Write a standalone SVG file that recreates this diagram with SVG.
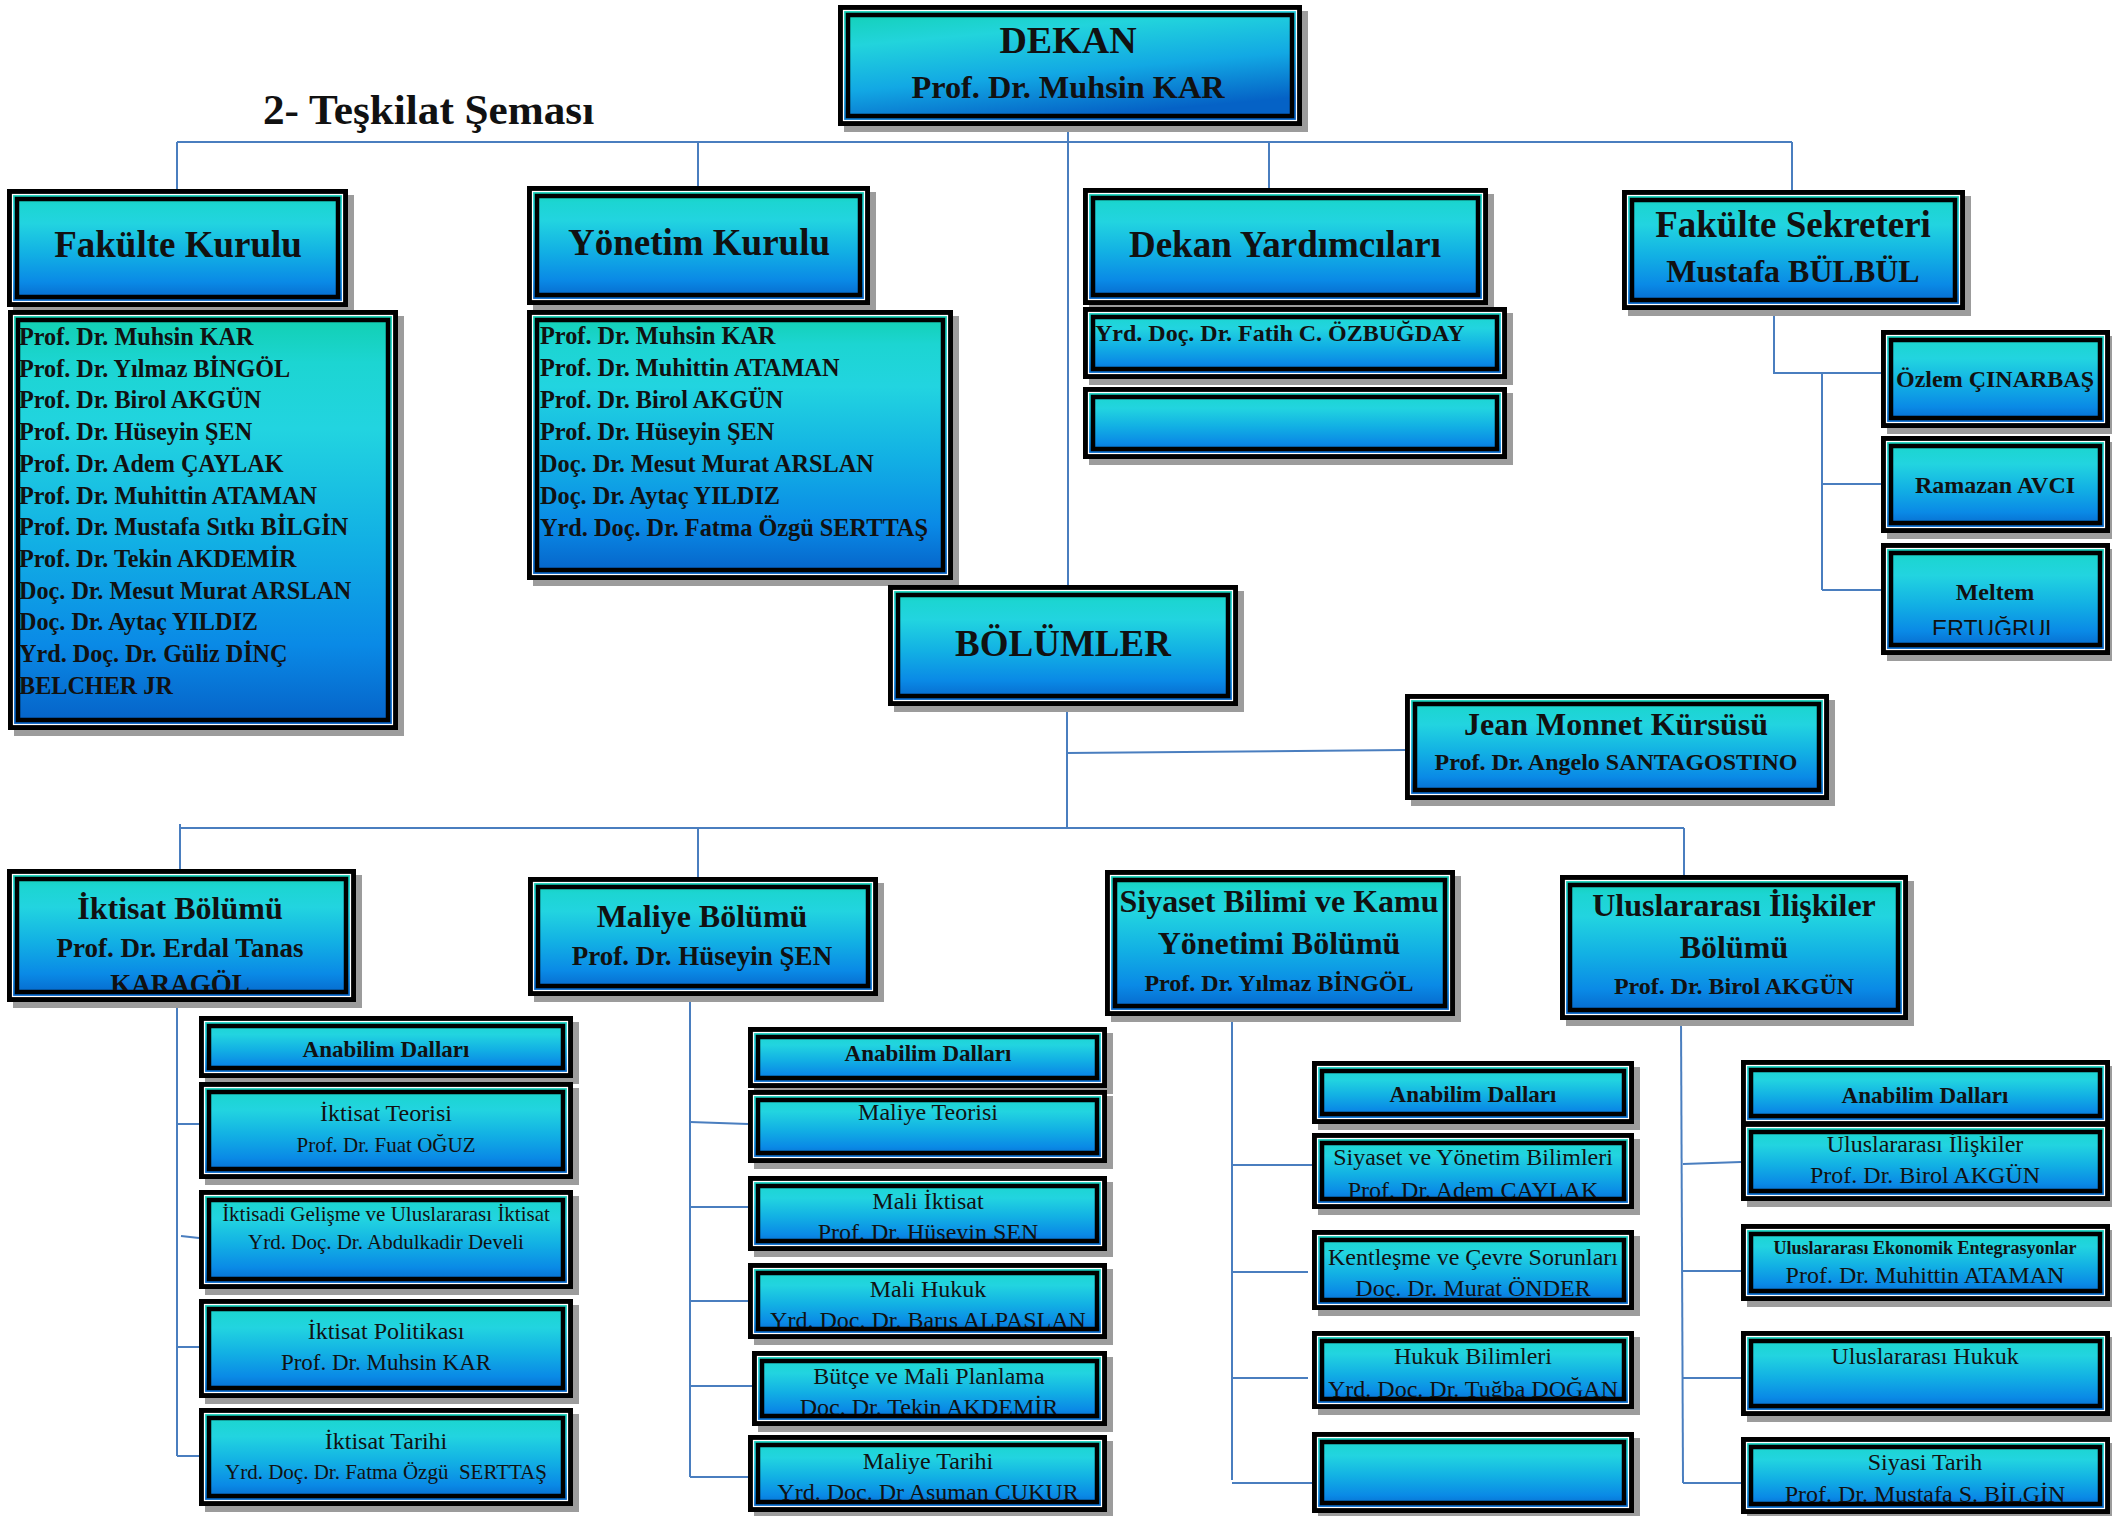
<svg xmlns="http://www.w3.org/2000/svg" width="2112" height="1516" viewBox="0 0 2112 1516">
<style>
.sh{fill:#9c9c9c}
.bx{fill:url(#g);stroke:#000;stroke-width:5}
.bd{fill:url(#gd);stroke:#000;stroke-width:5}
.wl{fill:none;stroke:#fff;stroke-width:1.2}
.in{fill:none;stroke:#000;stroke-width:4.5}
text{font-family:"Liberation Serif","Times New Roman",serif;fill:#111}
.b{font-weight:bold}
.c{text-anchor:middle}
.cn line,.cn polyline{stroke:#4a7ebf;stroke-width:2;fill:none}
</style>
<defs>
<linearGradient id="g" x1="0" y1="0" x2="0" y2="1">
<stop offset="0" stop-color="#10cfae"/>
<stop offset="0.12" stop-color="#1cd5d2"/>
<stop offset="0.28" stop-color="#22d4e0"/>
<stop offset="0.55" stop-color="#12b0e4"/>
<stop offset="0.8" stop-color="#0a8ae6"/>
<stop offset="1" stop-color="#0560c6"/>
</linearGradient>
<linearGradient id="gd" x1="0" y1="0" x2="0.35" y2="1">
<stop offset="0" stop-color="#10d0b0"/>
<stop offset="0.3" stop-color="#22d4dc"/>
<stop offset="0.65" stop-color="#12a8e4"/>
<stop offset="1" stop-color="#0562c6"/>
</linearGradient>
<clipPath id="cIkt"><rect x="7" y="869" width="349" height="121"/></clipPath>
<clipPath id="cMe"><rect x="1881" y="543" width="229" height="92"/></clipPath>
<clipPath id="cM2"><rect x="748" y="1176" width="359" height="63"/></clipPath>
<clipPath id="cM3"><rect x="748" y="1263" width="359" height="64"/></clipPath>
<clipPath id="cM4"><rect x="752" y="1351" width="355" height="63"/></clipPath>
<clipPath id="cM5"><rect x="748" y="1435" width="359" height="65"/></clipPath>
<clipPath id="cS1"><rect x="1312" y="1133" width="322" height="64"/></clipPath>
<clipPath id="cS2"><rect x="1312" y="1230" width="322" height="68"/></clipPath>
<clipPath id="cS3"><rect x="1312" y="1331" width="322" height="66"/></clipPath>
<clipPath id="cU4"><rect x="1741" y="1437" width="369" height="65"/></clipPath>
</defs>
<rect width="2112" height="1516" fill="#fff"/>

<text class="b" x="263" y="124" font-size="43.2">2- Teşkilat Şeması</text>

<g id="connectors" class="cn">
<line x1="1068" y1="126" x2="1068" y2="585"/>
<line x1="177" y1="142" x2="1792" y2="142"/>
<line x1="177" y1="142" x2="177" y2="189"/>
<line x1="698" y1="142" x2="698" y2="186"/>
<line x1="1269" y1="142" x2="1269" y2="188"/>
<line x1="1792" y1="142" x2="1792" y2="190"/>
<polyline points="1774,316 1774,373 1881,373"/>
<line x1="1822" y1="373" x2="1822" y2="590"/>
<line x1="1822" y1="484" x2="1881" y2="484"/>
<line x1="1822" y1="590" x2="1881" y2="590"/>
<line x1="1067" y1="706" x2="1067" y2="828"/>
<line x1="1067" y1="753" x2="1405" y2="750"/>
<line x1="180" y1="828" x2="1684" y2="828"/>
<line x1="180" y1="824" x2="180" y2="869"/>
<line x1="698" y1="828" x2="698" y2="877"/>
<line x1="1684" y1="828" x2="1684" y2="875"/>
<line x1="177" y1="1002" x2="177" y2="1456"/>
<line x1="177" y1="1124" x2="199" y2="1124"/>
<line x1="181" y1="1236" x2="199" y2="1238"/>
<line x1="177" y1="1347" x2="199" y2="1347"/>
<line x1="177" y1="1456" x2="199" y2="1456"/>
<line x1="690" y1="996" x2="690" y2="1477"/>
<line x1="690" y1="1122" x2="748" y2="1124"/>
<line x1="690" y1="1207" x2="748" y2="1207"/>
<line x1="690" y1="1301" x2="748" y2="1301"/>
<line x1="690" y1="1386" x2="752" y2="1386"/>
<line x1="690" y1="1477" x2="748" y2="1477"/>
<line x1="1232" y1="1019" x2="1232" y2="1480"/>
<line x1="1232" y1="1165" x2="1312" y2="1165"/>
<line x1="1232" y1="1272" x2="1308" y2="1272"/>
<line x1="1232" y1="1378" x2="1308" y2="1378"/>
<line x1="1232" y1="1483" x2="1312" y2="1483"/>
<line x1="1681" y1="1020" x2="1683" y2="1483"/>
<line x1="1683" y1="1164" x2="1741" y2="1162"/>
<line x1="1682" y1="1271" x2="1741" y2="1271"/>
<line x1="1683" y1="1378" x2="1741" y2="1378"/>
<line x1="1683" y1="1483" x2="1741" y2="1483"/>
</g>

<g id="dekan">
<rect class="sh" x="844" y="11" width="464" height="121"/>
<rect class="bd" x="840.5" y="7.5" width="459" height="116"/>
<rect class="wl" x="843.5" y="10.5" width="453" height="110"/>
<rect class="in" x="848" y="15" width="444" height="101"/>
<text class="b c" x="1068" y="53" font-size="38">DEKAN</text>
<text class="b c" x="1068" y="98" font-size="32.3">Prof. Dr. Muhsin KAR</text>
</g>

<g id="fakulte-kurulu">
<rect class="sh" x="13" y="195" width="341" height="118"/>
<rect class="bx" x="9.5" y="191.5" width="336" height="113"/>
<rect class="wl" x="12.5" y="194.5" width="330" height="107"/>
<rect class="in" x="17" y="199" width="321" height="98"/>
<text class="b c" x="178" y="257" font-size="37">Fakülte Kurulu</text>
</g>

<g id="fakulte-kurulu-uyeler">
<rect class="sh" x="14" y="316" width="390" height="420"/>
<rect class="bx" x="10.5" y="312.5" width="385" height="415"/>
<rect class="wl" x="13.5" y="315.5" width="379" height="409"/>
<rect class="in" x="18" y="320" width="370" height="400"/>
<text class="b" font-size="24.2">
<tspan x="19" y="345">Prof. Dr. Muhsin KAR</tspan>
<tspan x="19" y="376.7">Prof. Dr. Yılmaz BİNGÖL</tspan>
<tspan x="19" y="408.4">Prof. Dr. Birol AKGÜN</tspan>
<tspan x="19" y="440.1">Prof. Dr. Hüseyin ŞEN</tspan>
<tspan x="19" y="471.8">Prof. Dr. Adem ÇAYLAK</tspan>
<tspan x="19" y="503.5">Prof. Dr. Muhittin ATAMAN</tspan>
<tspan x="19" y="535.2">Prof. Dr. Mustafa Sıtkı BİLGİN</tspan>
<tspan x="19" y="566.9">Prof. Dr. Tekin AKDEMİR</tspan>
<tspan x="19" y="598.6">Doç. Dr. Mesut Murat ARSLAN</tspan>
<tspan x="19" y="630.3">Doç. Dr. Aytaç YILDIZ</tspan>
<tspan x="19" y="662">Yrd. Doç. Dr. Güliz DİNÇ</tspan>
<tspan x="19" y="693.7">BELCHER JR</tspan>
</text>
</g>

<g id="yonetim-kurulu">
<rect class="sh" x="533" y="192" width="343" height="119"/>
<rect class="bx" x="529.5" y="188.5" width="338" height="114"/>
<rect class="wl" x="532.5" y="191.5" width="332" height="108"/>
<rect class="in" x="537" y="196" width="323" height="99"/>
<text class="b c" x="699" y="255" font-size="37">Yönetim Kurulu</text>
</g>

<g id="yonetim-kurulu-uyeler">
<rect class="sh" x="533" y="316" width="426" height="270"/>
<rect class="bx" x="529.5" y="312.5" width="421" height="265"/>
<rect class="wl" x="532.5" y="315.5" width="415" height="259"/>
<rect class="in" x="537" y="320" width="406" height="250"/>
<text class="b" font-size="24.3">
<tspan x="540" y="344">Prof. Dr. Muhsin KAR</tspan>
<tspan x="540" y="376">Prof. Dr. Muhittin ATAMAN</tspan>
<tspan x="540" y="408">Prof. Dr. Birol AKGÜN</tspan>
<tspan x="540" y="440">Prof. Dr. Hüseyin ŞEN</tspan>
<tspan x="540" y="472">Doç. Dr. Mesut Murat ARSLAN</tspan>
<tspan x="540" y="504">Doç. Dr. Aytaç YILDIZ</tspan>
<tspan x="540" y="536">Yrd. Doç. Dr. Fatma Özgü SERTTAŞ</tspan>
</text>
</g>

<g id="dekan-yardimcilari">
<rect class="sh" x="1089" y="194" width="405" height="117"/>
<rect class="bx" x="1085.5" y="190.5" width="400" height="112"/>
<rect class="wl" x="1088.5" y="193.5" width="394" height="106"/>
<rect class="in" x="1093" y="198" width="385" height="97"/>
<text class="b c" x="1285" y="257" font-size="37">Dekan Yardımcıları</text>
</g>

<g id="dekan-yardimcisi-1">
<rect class="sh" x="1089" y="313" width="424" height="72"/>
<rect class="bx" x="1085.5" y="309.5" width="419" height="67"/>
<rect class="wl" x="1088.5" y="312.5" width="413" height="61"/>
<rect class="in" x="1093" y="317" width="404" height="52"/>
<text class="b" x="1095" y="341" font-size="24">Yrd. Doç. Dr. Fatih C. ÖZBUĞDAY</text>
</g>

<g id="dekan-yardimcisi-2">
<rect class="sh" x="1089" y="393" width="424" height="72"/>
<rect class="bx" x="1085.5" y="389.5" width="419" height="67"/>
<rect class="wl" x="1088.5" y="392.5" width="413" height="61"/>
<rect class="in" x="1093" y="397" width="404" height="52"/>
</g>

<g id="fakulte-sekreteri">
<rect class="sh" x="1628" y="196" width="343" height="120"/>
<rect class="bx" x="1624.5" y="192.5" width="338" height="115"/>
<rect class="wl" x="1627.5" y="195.5" width="332" height="109"/>
<rect class="in" x="1632" y="200" width="323" height="100"/>
<text class="b c" x="1793" y="237" font-size="37">Fakülte Sekreteri</text>
<text class="b c" x="1793" y="282" font-size="32">Mustafa BÜLBÜL</text>
</g>

<g id="ozlem">
<rect class="sh" x="1887" y="336" width="229" height="98"/>
<rect class="bx" x="1883.5" y="332.5" width="224" height="93"/>
<rect class="wl" x="1886.5" y="335.5" width="218" height="87"/>
<rect class="in" x="1891" y="340" width="209" height="78"/>
<text class="b c" x="1995" y="387" font-size="24">Özlem ÇINARBAŞ</text>
</g>

<g id="ramazan">
<rect class="sh" x="1887" y="442" width="229" height="97"/>
<rect class="bx" x="1883.5" y="438.5" width="224" height="92"/>
<rect class="wl" x="1886.5" y="441.5" width="218" height="86"/>
<rect class="in" x="1891" y="446" width="209" height="77"/>
<text class="b c" x="1995" y="493" font-size="24">Ramazan AVCI</text>
</g>

<g id="meltem">
<rect class="sh" x="1887" y="549" width="229" height="112"/>
<rect class="bx" x="1883.5" y="545.5" width="224" height="107"/>
<rect class="wl" x="1886.5" y="548.5" width="218" height="101"/>
<rect class="in" x="1891" y="553" width="209" height="92"/>
<text class="b c" x="1995" y="600" font-size="24">Meltem</text>
<text class="c" x="1995" y="637" font-size="23" style="font-family:'Liberation Sans',Arial,sans-serif" clip-path="url(#cMe)">ERTUĞRUL</text>
</g>

<g id="bolumler">
<rect class="sh" x="894" y="591" width="350" height="121"/>
<rect class="bx" x="890.5" y="587.5" width="345" height="116"/>
<rect class="wl" x="893.5" y="590.5" width="339" height="110"/>
<rect class="in" x="898" y="595" width="330" height="101"/>
<text class="b c" x="1063" y="656" font-size="37">BÖLÜMLER</text>
</g>

<g id="jean-monnet">
<rect class="sh" x="1411" y="700" width="424" height="106"/>
<rect class="bx" x="1407.5" y="696.5" width="419" height="101"/>
<rect class="wl" x="1410.5" y="699.5" width="413" height="95"/>
<rect class="in" x="1415" y="704" width="404" height="86"/>
<text class="b c" x="1616" y="735" font-size="32">Jean Monnet Kürsüsü</text>
<text class="b c" x="1616" y="770" font-size="24">Prof. Dr. Angelo SANTAGOSTINO</text>
</g>

<g id="iktisat">
<rect class="sh" x="13" y="875" width="349" height="133"/>
<rect class="bx" x="9.5" y="871.5" width="344" height="128"/>
<rect class="wl" x="12.5" y="874.5" width="338" height="122"/>
<rect class="in" x="17" y="879" width="329" height="113"/>
<g clip-path="url(#cIkt)">
<text class="b c" x="180" y="919" font-size="32">İktisat Bölümü</text>
<text class="b c" x="180" y="957" font-size="27">Prof. Dr. Erdal Tanas</text>
<text class="b c" x="180" y="993" font-size="27">KARAGÖL</text>
</g>
</g>

<g id="maliye">
<rect class="sh" x="534" y="883" width="350" height="119"/>
<rect class="bx" x="530.5" y="879.5" width="345" height="114"/>
<rect class="wl" x="533.5" y="882.5" width="339" height="108"/>
<rect class="in" x="538" y="887" width="330" height="99"/>
<text class="b c" x="702" y="927" font-size="32">Maliye Bölümü</text>
<text class="b c" x="702" y="965" font-size="27">Prof. Dr. Hüseyin ŞEN</text>
</g>

<g id="siyaset">
<rect class="sh" x="1111" y="876" width="350" height="146"/>
<rect class="bx" x="1107.5" y="872.5" width="345" height="141"/>
<rect class="wl" x="1110.5" y="875.5" width="339" height="135"/>
<rect class="in" x="1115" y="880" width="330" height="126"/>
<text class="b c" x="1279" y="912" font-size="32">Siyaset Bilimi ve Kamu</text>
<text class="b c" x="1279" y="954" font-size="32">Yönetimi Bölümü</text>
<text class="b c" x="1279" y="991" font-size="24">Prof. Dr. Yılmaz BİNGÖL</text>
</g>

<g id="uluslararasi">
<rect class="sh" x="1566" y="881" width="348" height="145"/>
<rect class="bx" x="1562.5" y="877.5" width="343" height="140"/>
<rect class="wl" x="1565.5" y="880.5" width="337" height="134"/>
<rect class="in" x="1570" y="885" width="328" height="125"/>
<text class="b c" x="1734" y="916" font-size="32">Uluslararası İlişkiler</text>
<text class="b c" x="1734" y="958" font-size="32">Bölümü</text>
<text class="b c" x="1734" y="994" font-size="24">Prof. Dr. Birol AKGÜN</text>
</g>

<g id="iktisat-anabilim">
<rect class="sh" x="205" y="1022" width="374" height="62"/>
<rect class="bx" x="201.5" y="1018.5" width="369" height="57"/>
<rect class="wl" x="204.5" y="1021.5" width="363" height="51"/>
<rect class="in" x="209" y="1026" width="354" height="42"/>
<text class="b c" x="386" y="1057" font-size="23">Anabilim Dalları</text>
</g>
<g id="iktisat-teorisi">
<rect class="sh" x="205" y="1088" width="374" height="97"/>
<rect class="bx" x="201.5" y="1084.5" width="369" height="92"/>
<rect class="wl" x="204.5" y="1087.5" width="363" height="86"/>
<rect class="in" x="209" y="1092" width="354" height="77"/>
<text class="c" x="386" y="1121" font-size="24">İktisat Teorisi</text>
<text class="c" x="386" y="1152" font-size="21">Prof. Dr. Fuat OĞUZ</text>
</g>
<g id="iktisadi-gelisme">
<rect class="sh" x="205" y="1196" width="374" height="99"/>
<rect class="bx" x="201.5" y="1192.5" width="369" height="94"/>
<rect class="wl" x="204.5" y="1195.5" width="363" height="88"/>
<rect class="in" x="209" y="1200" width="354" height="79"/>
<text class="c" x="386" y="1221" font-size="21">İktisadi Gelişme ve Uluslararası İktisat</text>
<text class="c" x="386" y="1249" font-size="21">Yrd. Doç. Dr. Abdulkadir Develi</text>
</g>
<g id="iktisat-politikasi">
<rect class="sh" x="205" y="1305" width="374" height="99"/>
<rect class="bx" x="201.5" y="1301.5" width="369" height="94"/>
<rect class="wl" x="204.5" y="1304.5" width="363" height="88"/>
<rect class="in" x="209" y="1309" width="354" height="79"/>
<text class="c" x="386" y="1339" font-size="24">İktisat Politikası</text>
<text class="c" x="386" y="1370" font-size="23">Prof. Dr. Muhsin KAR</text>
</g>
<g id="iktisat-tarihi">
<rect class="sh" x="205" y="1414" width="374" height="98"/>
<rect class="bx" x="201.5" y="1410.5" width="369" height="93"/>
<rect class="wl" x="204.5" y="1413.5" width="363" height="87"/>
<rect class="in" x="209" y="1418" width="354" height="78"/>
<text class="c" x="386" y="1449" font-size="24">İktisat Tarihi</text>
<text class="c" x="386" y="1479" font-size="21" xml:space="preserve">Yrd. Doç. Dr. Fatma Özgü  SERTTAŞ</text>
</g>

<g id="maliye-anabilim">
<rect class="sh" x="754" y="1033" width="359" height="61"/>
<rect class="bx" x="750.5" y="1029.5" width="354" height="56"/>
<rect class="wl" x="753.5" y="1032.5" width="348" height="50"/>
<rect class="in" x="758" y="1037" width="339" height="41"/>
<text class="b c" x="928" y="1061" font-size="23">Anabilim Dalları</text>
</g>
<g id="maliye-teorisi">
<rect class="sh" x="754" y="1096" width="359" height="73"/>
<rect class="bx" x="750.5" y="1092.5" width="354" height="68"/>
<rect class="wl" x="753.5" y="1095.5" width="348" height="62"/>
<rect class="in" x="758" y="1100" width="339" height="53"/>
<text class="c" x="928" y="1120" font-size="24">Maliye Teorisi</text>
</g>
<g id="mali-iktisat">
<rect class="sh" x="754" y="1182" width="359" height="75"/>
<rect class="bx" x="750.5" y="1178.5" width="354" height="70"/>
<rect class="wl" x="753.5" y="1181.5" width="348" height="64"/>
<rect class="in" x="758" y="1186" width="339" height="55"/>
<g clip-path="url(#cM2)">
<text class="c" x="928" y="1209" font-size="24">Mali İktisat</text>
<text class="c" x="928" y="1240" font-size="24">Prof. Dr. Hüseyin ŞEN</text>
</g>
</g>
<g id="mali-hukuk">
<rect class="sh" x="754" y="1269" width="359" height="76"/>
<rect class="bx" x="750.5" y="1265.5" width="354" height="71"/>
<rect class="wl" x="753.5" y="1268.5" width="348" height="65"/>
<rect class="in" x="758" y="1273" width="339" height="56"/>
<g clip-path="url(#cM3)">
<text class="c" x="928" y="1297" font-size="24">Mali Hukuk</text>
<text class="c" x="928" y="1328" font-size="24">Yrd. Doç. Dr. Barış ALPASLAN</text>
</g>
</g>
<g id="butce">
<rect class="sh" x="758" y="1357" width="355" height="75"/>
<rect class="bx" x="754.5" y="1353.5" width="350" height="70"/>
<rect class="wl" x="757.5" y="1356.5" width="344" height="64"/>
<rect class="in" x="762" y="1361" width="335" height="55"/>
<g clip-path="url(#cM4)">
<text class="c" x="929" y="1384" font-size="24">Bütçe ve Mali Planlama</text>
<text class="c" x="929" y="1415" font-size="24">Doç. Dr. Tekin AKDEMİR</text>
</g>
</g>
<g id="maliye-tarihi">
<rect class="sh" x="754" y="1441" width="359" height="77"/>
<rect class="bx" x="750.5" y="1437.5" width="354" height="72"/>
<rect class="wl" x="753.5" y="1440.5" width="348" height="66"/>
<rect class="in" x="758" y="1445" width="339" height="57"/>
<g clip-path="url(#cM5)">
<text class="c" x="928" y="1469" font-size="24">Maliye Tarihi</text>
<text class="c" x="928" y="1500" font-size="24">Yrd. Doç. Dr Asuman ÇUKUR</text>
</g>
</g>

<g id="siyaset-anabilim">
<rect class="sh" x="1318" y="1067" width="322" height="63"/>
<rect class="bx" x="1314.5" y="1063.5" width="317" height="58"/>
<rect class="wl" x="1317.5" y="1066.5" width="311" height="52"/>
<rect class="in" x="1322" y="1071" width="302" height="43"/>
<text class="b c" x="1473" y="1102" font-size="23">Anabilim Dalları</text>
</g>
<g id="siyaset-yonetim">
<rect class="sh" x="1318" y="1139" width="322" height="76"/>
<rect class="bx" x="1314.5" y="1135.5" width="317" height="71"/>
<rect class="wl" x="1317.5" y="1138.5" width="311" height="65"/>
<rect class="in" x="1322" y="1143" width="302" height="56"/>
<g clip-path="url(#cS1)">
<text class="c" x="1473" y="1165" font-size="24">Siyaset ve Yönetim Bilimleri</text>
<text class="c" x="1473" y="1198" font-size="24">Prof. Dr. Adem ÇAYLAK</text>
</g>
</g>
<g id="kentlesme">
<rect class="sh" x="1318" y="1236" width="322" height="80"/>
<rect class="bx" x="1314.5" y="1232.5" width="317" height="75"/>
<rect class="wl" x="1317.5" y="1235.5" width="311" height="69"/>
<rect class="in" x="1322" y="1240" width="302" height="60"/>
<g clip-path="url(#cS2)">
<text class="c" x="1473" y="1265" font-size="24">Kentleşme ve Çevre Sorunları</text>
<text class="c" x="1473" y="1296" font-size="24">Doç. Dr. Murat ÖNDER</text>
</g>
</g>
<g id="hukuk-bilimleri">
<rect class="sh" x="1318" y="1337" width="322" height="78"/>
<rect class="bx" x="1314.5" y="1333.5" width="317" height="73"/>
<rect class="wl" x="1317.5" y="1336.5" width="311" height="67"/>
<rect class="in" x="1322" y="1341" width="302" height="58"/>
<g clip-path="url(#cS3)">
<text class="c" x="1473" y="1364" font-size="24">Hukuk Bilimleri</text>
<text class="c" x="1473" y="1397" font-size="24">Yrd. Doç. Dr. Tuğba DOĞAN</text>
</g>
</g>
<g id="siyaset-bos">
<rect class="sh" x="1318" y="1438" width="322" height="81"/>
<rect class="bx" x="1314.5" y="1434.5" width="317" height="76"/>
<rect class="wl" x="1317.5" y="1437.5" width="311" height="70"/>
<rect class="in" x="1322" y="1442" width="302" height="61"/>
</g>

<g id="ui-anabilim">
<rect class="sh" x="1747" y="1066" width="369" height="66"/>
<rect class="bx" x="1743.5" y="1062.5" width="364" height="61"/>
<rect class="wl" x="1746.5" y="1065.5" width="358" height="55"/>
<rect class="in" x="1751" y="1070" width="349" height="46"/>
<text class="b c" x="1925" y="1103" font-size="23">Anabilim Dalları</text>
</g>
<g id="ui-iliskiler">
<rect class="sh" x="1747" y="1128" width="369" height="79"/>
<rect class="bx" x="1743.5" y="1124.5" width="364" height="74"/>
<rect class="wl" x="1746.5" y="1127.5" width="358" height="68"/>
<rect class="in" x="1751" y="1132" width="349" height="59"/>
<text class="c" x="1925" y="1152" font-size="24">Uluslararası İlişkiler</text>
<text class="c" x="1925" y="1183" font-size="24">Prof. Dr. Birol AKGÜN</text>
</g>
<g id="ui-ekonomik">
<rect class="sh" x="1747" y="1230" width="369" height="77"/>
<rect class="bx" x="1743.5" y="1226.5" width="364" height="72"/>
<rect class="wl" x="1746.5" y="1229.5" width="358" height="66"/>
<rect class="in" x="1751" y="1234" width="349" height="57"/>
<text class="b c" x="1925" y="1254" font-size="18">Uluslararası Ekonomik Entegrasyonlar</text>
<text class="c" x="1925" y="1283" font-size="24">Prof. Dr. Muhittin ATAMAN</text>
</g>
<g id="ui-hukuk">
<rect class="sh" x="1747" y="1337" width="369" height="85"/>
<rect class="bx" x="1743.5" y="1333.5" width="364" height="80"/>
<rect class="wl" x="1746.5" y="1336.5" width="358" height="74"/>
<rect class="in" x="1751" y="1341" width="349" height="65"/>
<text class="c" x="1925" y="1364" font-size="24">Uluslararası Hukuk</text>
</g>
<g id="ui-siyasi-tarih">
<rect class="sh" x="1747" y="1443" width="369" height="77"/>
<rect class="bx" x="1743.5" y="1439.5" width="364" height="72"/>
<rect class="wl" x="1746.5" y="1442.5" width="358" height="66"/>
<rect class="in" x="1751" y="1447" width="349" height="57"/>
<g clip-path="url(#cU4)">
<text class="c" x="1925" y="1470" font-size="24">Siyasi Tarih</text>
<text class="c" x="1925" y="1502" font-size="24">Prof. Dr. Mustafa S. BİLGİN</text>
</g>
</g>
</svg>
